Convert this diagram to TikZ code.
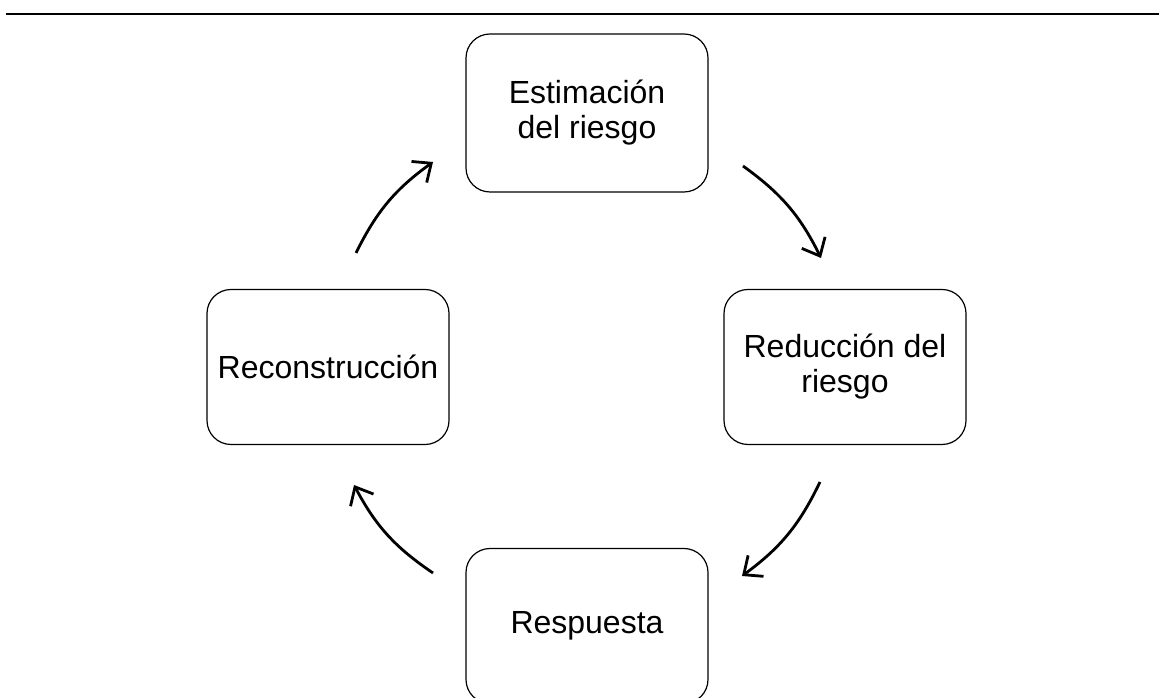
\documentclass[tikz,border=0pt]{standalone}
\usepackage{fontspec}
\setmainfont{Liberation Sans}
\usetikzlibrary{arrows.meta}
\tikzset{
  etapa/.style={draw, rounded corners=24pt, line width=1.2pt, minimum width=242pt, minimum height=155pt, align=center, font=\fontsize{32}{35}\selectfont},
  flecha/.style={line width=2.8pt, -{Straight Barb[length=15pt,width=26pt]}},
}
\begin{document}
\begin{tikzpicture}[x=1pt,y=1pt]
                        \useasboundingbox (0,0) rectangle (1159,698);
                        % rule at the top
                        \draw [line width=1.6pt] (6,684)--(1159,684);

                        \node [etapa, minimum height=158pt] (estim) at (587,585) {Estimación\\del riesgo};
                        \node [etapa] (reduc) at (845,331) {Reducción del\\riesgo};
                        \node [etapa] (resp) at (587,72) {Respuesta};
                        \node [etapa] (recon) at (328,331) {Reconstrucción};

                        % arrow ends
                        \coordinate (a1s) at (743,532);
                        \coordinate (a1e) at (821,440);
                        \coordinate (a2s) at (820,216);
                        \coordinate (a2e) at (742,122);
                        \coordinate (a3s) at (433,125);
                        \coordinate (a3e) at (354,213);
                        \coordinate (a4s) at (356,445);
                        \coordinate (a4e) at (433,536);

                        \draw [flecha] (a1s) to[bend left=14] (a1e);
                        \draw [flecha] (a2s) to[bend left=14] (a2e);
                        \draw [flecha] (a3s) to[bend left=14] (a3e);
                        \draw [flecha] (a4s) to[bend left=14] (a4e);
                    \end{tikzpicture}
\end{document}
